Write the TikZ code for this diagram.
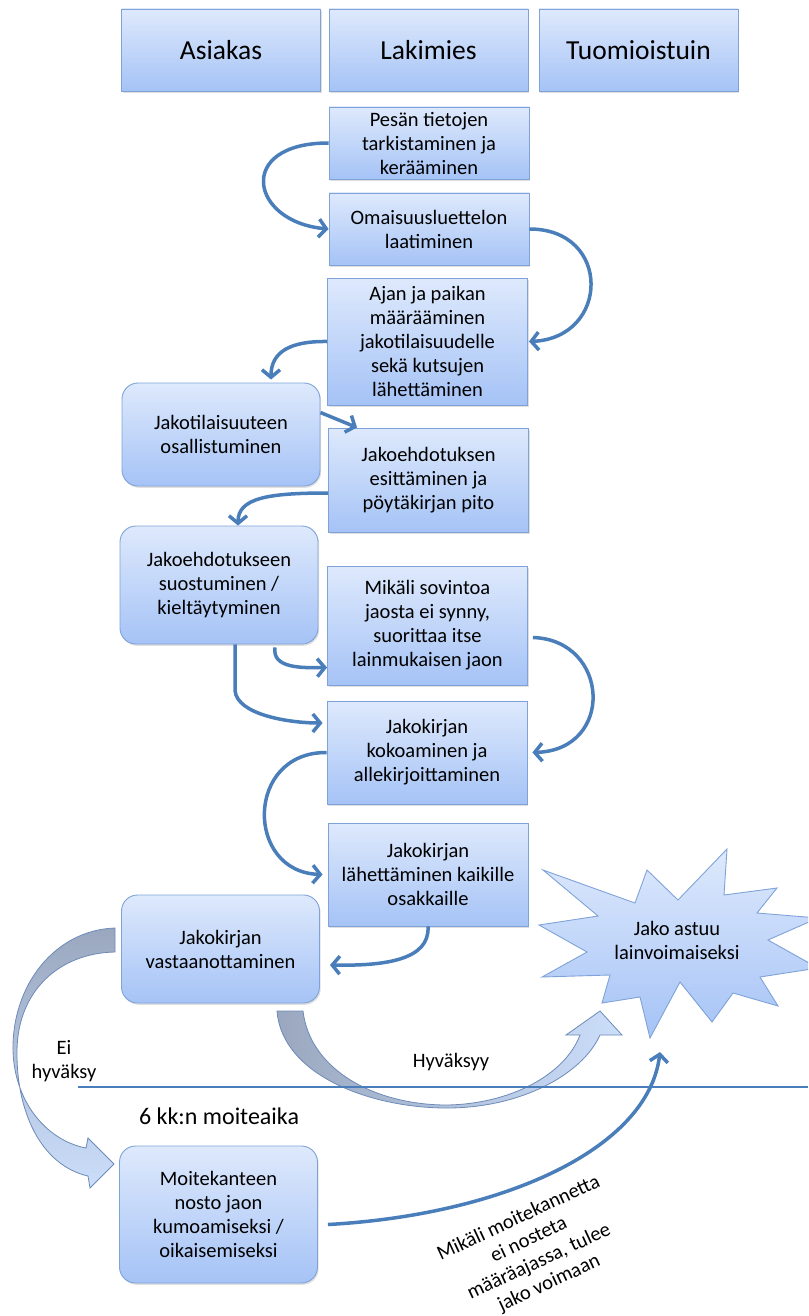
\documentclass[tikz,border=0pt]{standalone}
\usepackage{fontspec}
\setmainfont{Carlito}
\usepackage{tikz}
\usetikzlibrary{arrows.meta,calc,shadows}

\definecolor{boxtop}{HTML}{DEE9FC}
\definecolor{boxbot}{HTML}{A5C3F6}
\definecolor{boxline}{HTML}{7FA3D8}
\definecolor{flowblue}{HTML}{4A7EBB}
\definecolor{bandgray}{HTML}{9AA7BF}
\definecolor{bandblue}{HTML}{CBDEFA}

\begin{document}
\begin{tikzpicture}[
    x = 1pt, y = -1pt,
    every node/.style = {font=\fontsize{20.5}{24}\selectfont, align=center},
    % Named styles
    boxbase/.style  = {draw=boxline, line width=0.9pt, top color=boxtop, bottom color=boxbot,
                       inner sep=2pt,
                       drop shadow={shadow xshift=1.2pt, shadow yshift=-1.8pt, opacity=0.25}},
    header/.style   = {boxbase, minimum width=199pt, minimum height=82pt,
                       font=\fontsize{27.5}{32}\selectfont},
    lawyer/.style   = {boxbase, minimum width=200pt},
    client/.style   = {boxbase, rounded corners=16pt, minimum width=198pt},
    flow/.style     = {draw=flowblue, line width=3.5pt, -{Straight Barb[length=7.5pt,width=18pt]}},
    band/.style     = {draw=boxline!85!black, line width=0.8pt},
    timeline/.style = {draw=flowblue, line width=2.4pt},
]

% ── Canvas (1 unit = 1 px of the layout) ──────────────────────────────────────
\path[use as bounding box, clip] (0,0) rectangle (808,1316);

% ── Column headers ────────────────────────────────────────────────────────────
\node[header] (asiakas)  at (221,50)   {Asiakas};
\node[header] (lakimies) at (428.5,50) {Lakimies};
\node[header] (tuomio)   at (638.5,50) {Tuomioistuin};

% ── Lawyer steps ──────────────────────────────────────────────────────────────
\node[lawyer, minimum height=72pt]  (pesa)     at (429,143)   {Pesän tietojen\\tarkistaminen ja\\kerääminen};
\node[lawyer, minimum height=72pt]  (omaisuus) at (429,229)   {Omaisuusluettelon\\laatiminen};
\node[lawyer, minimum height=127pt] (ajan)     at (427.5,341.5) {Ajan ja paikan\\määrääminen\\jakotilaisuudelle\\sekä kutsujen\\lähettäminen};
\node[lawyer, minimum height=104pt] (jakoehd)  at (428.5,480) {Jakoehdotuksen\\esittäminen ja\\pöytäkirjan pito};
\node[lawyer, minimum height=119pt] (mikali)   at (427.5,625.5) {Mikäli sovintoa\\jaosta ei synny,\\suorittaa itse\\lainmukaisen jaon};
\node[lawyer, minimum height=103pt] (kokoam)   at (427,752.5) {Jakokirjan\\kokoaminen ja\\allekirjoittaminen};
\node[lawyer, minimum height=103pt] (lahett)   at (428,874.5) {Jakokirjan\\lähettäminen kaikille\\osakkaille};

% ── Client steps ──────────────────────────────────────────────────────────────
\node[client, minimum height=103pt] (osallist) at (221,434.5)  {Jakotilaisuuteen\\osallistuminen};
\node[client, minimum height=118pt] (suostum)  at (219,585)    {Jakoehdotukseen\\suostuminen /\\kieltäytyminen};
\node[client, minimum height=108pt] (vastaan)  at (220.5,949)  {Jakokirjan\\vastaanottaminen};
\node[client, minimum height=137pt] (moite)    at (218.5,1214.5) {Moitekanteen\\nosto jaon\\kumoamiseksi /\\oikaisemiseksi};

% ── Explosion: legal force ────────────────────────────────────────────────────
\draw[draw=boxline, line width=0.9pt, top color=boxtop, bottom color=boxbot]
    (543,870) -- (635,903) -- (647,870) -- (678,900) -- (727,849) -- (724,895)
    -- (777,888) -- (757,913) -- (818,918) -- (768,940) -- (818,968) -- (760,977)
    -- (778,1006) -- (733,993) -- (712,1022) -- (680,982) -- (650,1038) -- (640,997)
    -- (602,1003) -- (610,975) -- (542,977) -- (587,952) -- (539,925) -- (598,916) -- cycle;
\node (voima) at (677,940) {Jako astuu\\lainvoimaiseksi};
\coordinate (voimaan) at (660,1052);

% ── Flow arrows ───────────────────────────────────────────────────────────────
\draw[flow] (pesa.west) .. controls (235,143) and (250,222) .. (omaisuus.west);
\draw[flow] (omaisuus.east) .. controls (612,229) and (610,338) .. ($(ajan.east)+(1,0)$);
\draw[flow] (ajan.west) .. controls (290,341) and (271,352) .. ($(osallist.north)+(50,-3)$);
\draw[flow] ($(osallist.east)+(0,-22)$) -- ($(jakoehd.north west)+(29,0)$);
\draw[flow] ($(jakoehd.west)+(0,13)$) .. controls (268,493) and (238,498) .. ($(suostum.north)+(19,0)$);
\draw[flow] ($(suostum.south)+(56,3)$) .. controls (272,668) and (300,668) .. ($(mikali.west)+(0,42)$);
\draw[flow] ($(suostum.south)+(16,0)$) -- ++(0,46) .. controls (237,715) and (290,723) .. ($(kokoam.west)+(-4,-29.5)$);
\draw[flow] ($(mikali.east)+(5,12)$) .. controls (610,640) and (615,750) .. ($(kokoam.east)+(5,0)$);
\draw[flow] (kokoam.west) .. controls (245,752) and (245,872) .. ($(lahett.west)+(-5,0)$);
\draw[flow] (lahett.south) .. controls (430,960) and (385,966) .. ($(vastaan.east)+(10,16)$);

% ── Wide curved arrows (decision) ─────────────────────────────────────────────
% Ei hyväksy
\path[band, top color=bandgray, bottom color=bandblue]
    (115,928) .. controls (55,930) and (12,985) .. (13,1050)
    .. controls (14,1100) and (45,1140) .. (86,1148)
    -- (88,1138) -- (114,1164) -- (90,1188) -- (88,1176)
    .. controls (40,1165) and (16,1110) .. (17,1050)
    .. controls (18,990) and (60,953) .. (115,952) -- cycle;
% Hyväksyy
\path[band, left color=bandgray, right color=bandblue]
    (277,1011) .. controls (282,1075) and (370,1108) .. (447,1108)
    .. controls (520,1108) and (582,1075) .. (600,1035)
    -- (622,1035) -- (600,1011) -- (566,1035) -- (580,1035)
    .. controls (565,1075) and (510,1104) .. (447,1105)
    .. controls (375,1105) and (310,1070) .. (303,1011) -- cycle;

% ── Objection period ──────────────────────────────────────────────────────────
\draw[timeline] (78,1087) -- (808,1087);
\node (eihyv)     at (64,1061)  {Ei\\hyväksy};
\node (hyv)       at (451,1062) {Hyväksyy};
\node[font=\fontsize{24}{28}\selectfont] (moiteaika) at (219,1116) {6 kk:n moiteaika};

\draw[flow] ($(moite.east)+(10,10)$) .. controls (500,1215) and (648,1150) .. (voimaan);
\node[rotate=25, font=\fontsize{20.5}{24}\selectfont] (ehto) at (534,1251)
    {Mikäli moitekannetta\\ei nosteta\\määräajassa, tulee\\jako voimaan};

\end{tikzpicture}
\end{document}
